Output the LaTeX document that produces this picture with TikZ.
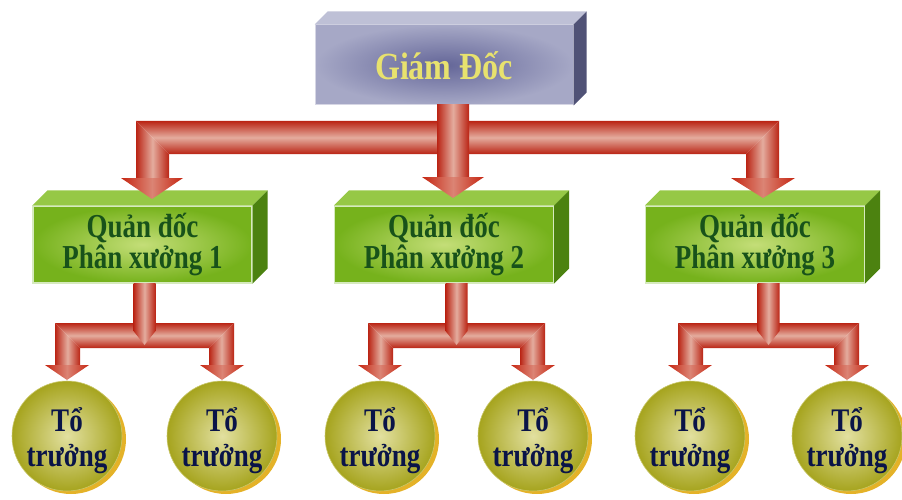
\documentclass[tikz,border=0pt]{standalone}
\usepackage{fontspec}
\setmainfont{Liberation Serif}
\usetikzlibrary{calc}

\definecolor{pipedark}{RGB}{186,36,20}
\definecolor{pipelight}{RGB}{228,172,158}
\definecolor{headdark}{RGB}{198,38,18}
\definecolor{topfront}{RGB}{166,168,198}
\definecolor{topcore}{RGB}{100,102,152}
\definecolor{toplid}{RGB}{190,192,214}
\definecolor{topside}{RGB}{80,82,118}
\definecolor{topline}{RGB}{214,214,228}
\definecolor{gdtext}{RGB}{232,226,110}
\definecolor{grfront}{RGB}{118,178,28}
\definecolor{grcore}{RGB}{196,222,120}
\definecolor{grlid}{RGB}{150,200,70}
\definecolor{grside}{RGB}{76,130,16}
\definecolor{grline}{RGB}{214,234,190}
\definecolor{grtext}{RGB}{24,82,26}
\definecolor{ballout}{RGB}{166,164,30}
\definecolor{ballin}{RGB}{226,224,160}
\definecolor{ballrim}{RGB}{228,178,40}
\definecolor{balltext}{RGB}{10,20,72}

% straight pipe pieces
\newcommand\pipestem[4]{% x centre, y top, y bottom, half width
  \shade[left color=pipedark,right color=pipedark,middle color=pipelight]
    (#1-#4,#2) rectangle (#1+#4,#3);}
\newcommand\pipebar[4]{% x left, x right, y top, thickness (mitred ends)
  \shade[top color=pipedark,bottom color=pipedark,middle color=pipelight]
    (#1,#3) -- (#2,#3) -- (#2-#4,#3+#4) -- (#1+#4,#3+#4) -- cycle;}
\newcommand\pipelegL[4]{% outer x, y top, thickness, y bottom
  \shade[left color=pipedark,right color=pipedark,middle color=pipelight]
    (#1,#2) -- (#1+#3,#2+#3) -- (#1+#3,#4) -- (#1,#4) -- cycle;}
\newcommand\pipelegR[4]{% outer x, y top, thickness, y bottom
  \shade[left color=pipedark,right color=pipedark,middle color=pipelight]
    (#1,#2) -- (#1,#4) -- (#1-#3,#4) -- (#1-#3,#2+#3) -- cycle;}
\newcommand\pipehead[4]{% x centre, y base, y tip, half width
  \shade[left color=headdark,right color=headdark,middle color=pipelight!70!headdark]
    (#1-#4,#2) -- (#1+#4,#2) -- (#1,#3) -- cycle;}

% one workshop branch: two leader balls at x = #1 and #2
\newcommand\branch[2]{%
  \pipebar{#1-12}{#2+12}{323}{25}
  \pipelegL{#1-12}{323}{25}{367}
  \pipelegR{#2+12}{323}{25}{367}
  \pipehead{#1}{365}{380}{22}
  \pipehead{#2}{365}{380}{22}
  \shade[left color=pipedark,right color=pipedark,middle color=pipelight]
    ({(#1+#2)/2-11},283) -- ({(#1+#2)/2+11},283) -- ({(#1+#2)/2+11},331)
    -- ({(#1+#2)/2},345) -- ({(#1+#2)/2-11},331) -- cycle;}

% tall lettering
\newcommand\tall[2]{\scalebox{1}[#1]{#2}}
% two centred lines at a fixed baseline distance (#1)
\newcommand\twolines[3]{\vbox{\baselineskip=#1\lineskiplimit=-100pt\lineskip=0pt
  \halign{\hfil##\hfil\cr #2\cr #3\cr}}}

\begin{document}
\begin{tikzpicture}[x=1pt,y=-1pt,
  gdbox/.style={rectangle,minimum width=258pt,minimum height=80pt,
    inner color=topcore,outer color=topfront,draw=topline,line width=1pt},
  grbox/.style={rectangle,minimum width=219pt,minimum height=77pt,
    inner color=grcore,outer color=grfront,draw=grline,line width=1.2pt},
  ball/.style={circle,minimum size=110pt,inner sep=0pt,
    inner color=ballin,outer color=ballout,draw=ballin!60!ballout,line width=0.6pt},
  rim/.style={circle,minimum size=110pt,inner sep=0pt,fill=ballrim},
  gdtxt/.style={anchor=base,inner sep=0pt,text=gdtext,font=\bfseries\fontsize{32}{34}\selectfont},
  grtxt/.style={anchor=base,inner sep=0pt,text=grtext,font=\bfseries\fontsize{27}{30}\selectfont},
  balltxt/.style={anchor=base,inner sep=0pt,text=balltext,font=\bfseries\fontsize{27}{30}\selectfont}]

\useasboundingbox (0,0) rectangle (902,500);

% ---- top box
\node[gdbox] (gd) at (444,65) {};
\fill[toplid] (gd.north west) -- ++(13,-13) -- ($(gd.north east)+(13,-13)$) -- (gd.north east) -- cycle;
\fill[topside] (gd.north east) -- ++(13,-13) -- ($(gd.south east)+(13,-13)$) -- (gd.south east) -- cycle;
\node[gdtxt] (gdlabel) at (444,80) {\tall{1.2}{Giám Đốc}};

% ---- workshop boxes
\foreach \n/\x in {1/142.5,2/444,3/755}{
  \node[grbox] (q\n) at (\x,244.5) {};
  \fill[grlid] (q\n.north west) -- ++(15,-15) -- ($(q\n.north east)+(15,-15)$) -- (q\n.north east) -- cycle;
  \fill[grside] (q\n.north east) -- ++(15,-15) -- ($(q\n.south east)+(15,-15)$) -- (q\n.south east) -- cycle;
  \node[grtxt] (q\n label) at (\x,268) {\tall{1.24}{\twolines{24.4pt}{Quản đốc}{Phân xưởng \n}}};
}

% ---- team leaders
\foreach \n/\x in {1/67,2/222,3/380,4/533,5/690,6/847}{
  \node[rim] (r\n) at (\x+4,439) {};
  \node[ball] (t\n) at (\x,436) {};
  \node[balltxt] (t\n label) at (\x,466) {\tall{1.22}{\twolines{28.6pt}{Tổ}{trưởng}}};
}

% ---- connectors from the director
\pipebar{136}{779}{121}{33}
\pipelegL{136}{121}{33}{180}
\pipelegR{779}{121}{33}{180}
\pipestem{453}{105}{180}{16}
\pipehead{152}{178}{199}{31}
\pipehead{763}{178}{198}{32}
\pipehead{453}{177}{198}{31}

% ---- connectors from each workshop
\branch{67}{222}
\branch{380}{533}
\branch{690}{847}

\end{tikzpicture}
\end{document}
